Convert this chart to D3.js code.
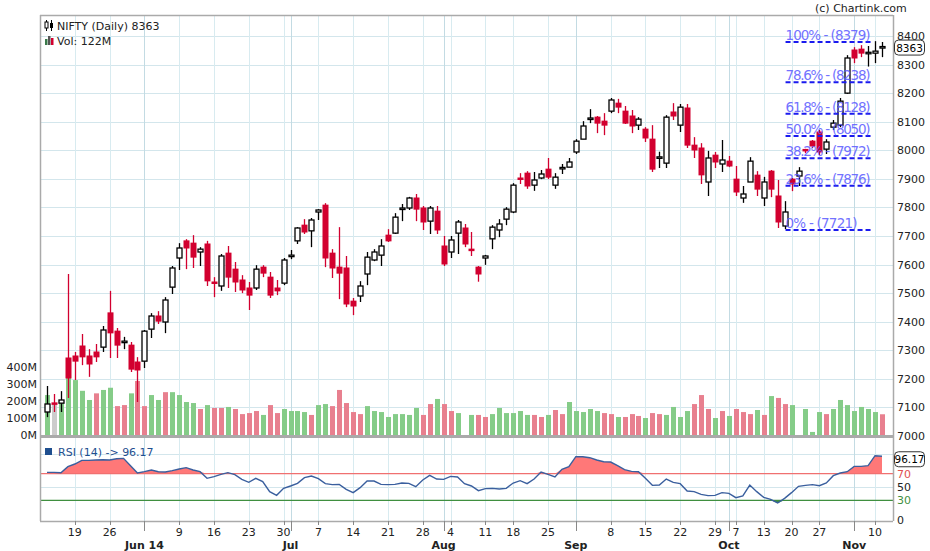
<!DOCTYPE html>
<html><head><meta charset="utf-8">
<script src="https://cdn.jsdelivr.net/npm/d3@7/dist/d3.min.js"></script>
<style>body{margin:0;background:#fff}svg{font-family:"DejaVu Sans",sans-serif}</style>
</head><body><svg id="c" width="930" height="551"></svg>
<script>
const opens=[7084,7116,7115,7273,7280,7315,7280,7294,7311,7431,7367,7329,7318,7259,7262,7374,7420,7399,7521,7623,7683,7675,7644,7672,7539,7525,7640,7584,7546,7518,7518,7591,7556,7518,7535,7630,7683,7738,7718,7784,7808,7640,7591,7588,7472,7490,7567,7616,7633,7703,7710,7796,7798,7833,7798,7752,7787,7665,7644,7710,7728,7654,7591,7623,7690,7721,7759,7784,7903,7920,7878,7903,7934,7878,7936,7941,7994,8039,8111,8116,8102,8137,8165,8137,8120,8088,8074,8039,7975,7955,8134,8088,8148,8018,8008,7889,7983,7952,7962,7899,7833,7889,7913,7833,7927,7840,7735,7899,7910,8003,8032,8064,8004,8081,8088,8200,8351,8354,8340,8340,8358];
const highs=[7175,7147,7157,7567,7294,7357,7304,7322,7385,7508,7378,7347,7329,7276,7371,7430,7437,7486,7595,7675,7689,7703,7661,7683,7556,7637,7665,7609,7563,7539,7598,7598,7574,7546,7623,7651,7731,7759,7763,7794,7815,7654,7731,7630,7483,7542,7644,7654,7689,7724,7780,7812,7837,7847,7805,7805,7805,7700,7700,7756,7742,7714,7595,7634,7738,7759,7801,7885,7920,7927,7924,7931,7973,7920,7952,7973,8039,8102,8144,8120,8130,8183,8180,8155,8141,8116,8081,8088,7995,8123,8165,8162,8162,8046,8025,7998,7994,8036,7980,7945,7875,7976,7927,7907,7931,7896,7822,7903,7941,8005,8036,8071,8039,8106,8183,8333,8361,8368,8365,8382,8379];
const lows=[7066,7084,7084,7133,7196,7248,7207,7259,7294,7273,7273,7304,7224,7119,7238,7343,7392,7360,7497,7581,7584,7588,7595,7525,7486,7508,7518,7504,7500,7441,7511,7556,7483,7493,7528,7619,7672,7707,7661,7756,7591,7553,7479,7451,7423,7469,7528,7612,7595,7679,7707,7752,7791,7752,7721,7707,7707,7595,7623,7637,7661,7630,7540,7599,7654,7696,7738,7780,7882,7865,7858,7899,7899,7865,7917,7941,7987,8039,8095,8060,8053,8130,8130,8092,8060,8071,8029,7924,7938,7938,8106,8064,8008,7973,7882,7840,7938,7924,7941,7840,7816,7889,7840,7805,7836,7728,7724,7857,7875,7990,8008,7983,7987,8071,8081,8197,8305,8326,8293,8305,8326];
const closes=[7112,7112,7126,7203,7262,7277,7252,7277,7371,7361,7318,7332,7234,7231,7367,7420,7402,7476,7588,7658,7658,7626,7654,7543,7535,7630,7556,7539,7511,7493,7584,7570,7493,7508,7616,7633,7728,7714,7756,7791,7623,7588,7570,7462,7455,7525,7626,7644,7665,7683,7766,7798,7833,7794,7749,7798,7721,7602,7686,7749,7672,7651,7567,7630,7731,7742,7794,7878,7899,7875,7896,7917,7906,7906,7940,7959,8032,8085,8113,8095,8088,8176,8151,8095,8085,8109,8043,7934,7977,8116,8120,8151,8018,8001,7914,7973,7959,7966,7945,7854,7847,7962,7864,7889,7864,7749,7784,7882,7927,8001,8015,7994,8029,8095,8172,8323,8323,8340,8343,8347,8363];
const volumes=[235,188,195,335,323,260,206,245,265,278,170,176,245,318,170,235,206,252,252,235,194,188,153,176,159,159,165,153,123,129,141,118,176,129,153,141,141,135,118,176,182,170,265,188,135,123,170,141,135,106,123,123,118,159,118,182,212,182,141,129,0,118,118,106,123,159,129,129,141,118,118,106,118,147,123,194,141,135,153,141,129,123,106,106,123,112,100,129,123,118,165,106,141,182,235,153,100,141,112,153,135,123,147,118,229,218,182,176,0,153,18,135,123,153,206,176,141,165,153,135,122];
const volDir="gngggggrggrrgrrggrggggrgrrgrrrrgrrggggrggrrrrrggggggggrrgrrgg-rrggggggrrgrrgggggrrgrrrgrrggggrrrgrgrrrgrgrrgg-ggrgggggggrrg";
const rsi=[72,72,71.5,80.5,84.5,90,90,90.5,91,90.5,92.5,93,82,71,73,75.5,73,72.5,74.5,77,79,75.5,73,63,65.5,69,71.5,68.5,61.5,57,63,58,43,37.5,48,51.5,55.5,64,66.5,62.5,55,53.5,54,46.5,41.5,49,59,59,54,53.5,54,56,55.5,50.5,60.5,67.5,62,61.5,66,65,55,51.5,44.5,47.5,48,47,48,56,59.5,55,62,72.5,69,65,76.5,80.5,95.5,95.5,94,90.5,88,87.5,82,76,73.5,73,63,52.5,53,62,57,55,44,43,39,37,37.5,41.5,40.5,34,36.5,53,43,34.5,31.5,26,33,41.5,51,52.5,53.5,52,56,67,71,73,81,81,82,97,96.17];
const priceTicks=[7000,7100,7200,7300,7400,7500,7600,7700,7800,7900,8000,8100,8200,8300,8400];
const volTicks=[0,100,200,300,400];
const rsiTicks=[0,30,50,70];
const dayTickIdx=[5,10,20,25,30,35,40,45,50,55,59,64,68,73,82,87,92,97,100,104,108,112,120];
const dayTickLbl=["19","26","9","16","23","30","7","14","21","28","4","11","18","25","8","15","22","29","7","13","20","27","10"];
const monthIdx=[15,36,58,77,99,117];
const monthLbl=["Jun 14","Jul","Aug","Sep","Oct","Nov"];
const fibLevels=[8379,8238,8128,8050,7972,7876,7721];
const fibLbl=["100%","78.6%","61.8%","50.0%","38.2%","23.6%","0%"];
const fibStart=108, fibEnd=120;

const svg=d3.select("#c");
const L=40,R=893,T=15,MB=436,RB=521;
const n=closes.length, idx=d3.range(1,n+1);
const x=d3.scaleLinear().domain([1,n]).range([47,882]);
const y=d3.scaleLinear().domain([7000,8400]).range([436,36]);
const yv=d3.scaleLinear().domain([0,400]).range([435,367]);
const yr=d3.scaleLinear().domain([0,100]).range([520.3,453.7]);
const px=v=>Math.round(x(v))+0.5;

const g=svg.append("g");
g.selectAll(".hg").data(priceTicks).join("line").attr("x1",L).attr("x2",R).attr("y1",d=>Math.round(y(d))+.5).attr("y2",d=>Math.round(y(d))+.5).attr("stroke","#d3e6ec");
[100,50].forEach(v=>g.append("line").attr("x1",L).attr("x2",R).attr("y1",Math.round(yr(v))+.5).attr("y2",Math.round(yr(v))+.5).attr("stroke","#d3e6ec"));
g.selectAll(".vg").data(dayTickIdx).join("line").attr("x1",d=>px(d)).attr("x2",d=>px(d)).attr("y1",T).attr("y2",RB).attr("stroke","#d8ebf0");
g.selectAll(".mg").data(monthIdx).join("line").attr("x1",d=>px(d)).attr("x2",d=>px(d)).attr("y1",T).attr("y2",RB).attr("stroke","#c3dbe3");

const vc={g:"#85cc88",r:"#e8808f",n:"#cccccc"};
svg.selectAll(".vb").data(idx.filter(i=>volumes[i-1]>0)).join("rect")
 .attr("x",i=>Math.round(x(i))-2.5+.5).attr("width",5).attr("y",i=>yv(volumes[i-1])).attr("height",i=>yv(0)-yv(volumes[i-1])+1)
 .attr("fill",i=>vc[volDir[i-1]]||"#85cc88");

const cg=svg.append("g");
idx.forEach(i=>{
 const o=opens[i-1],h=highs[i-1],l=lows[i-1],c=closes[i-1];
 const up=c>=o, col=up?"#000":"#d2002f";
 const cx=px(i);
 cg.append("line").attr("x1",cx).attr("x2",cx).attr("y1",y(h)).attr("y2",y(l)).attr("stroke",col).attr("stroke-width",1.3);
 const top=y(Math.max(o,c)),bot=y(Math.min(o,c));
 const hgt=Math.max(bot-top,1.5);
 if(up) cg.append("rect").attr("x",cx-2.5).attr("width",5).attr("y",top).attr("height",hgt).attr("fill","#fff").attr("stroke","#000").attr("stroke-width",1.3);
 else cg.append("rect").attr("x",cx-3).attr("width",6).attr("y",top-0.5).attr("height",hgt+1).attr("fill","#d2002f");
});

fibLevels.forEach((v,j)=>{
 svg.append("line").attr("x1",x(fibStart)-6).attr("x2",x(fibEnd)-4).attr("y1",y(v)).attr("y2",y(v)).attr("stroke","#1a1aee").attr("stroke-width",2).attr("stroke-dasharray","5,3");
 svg.append("text").attr("x",x(fibStart)-6).attr("y",y(v)-2).attr("font-size",13.5).attr("textLength",j<6?85:72).attr("fill","#5a5aff").attr("opacity",.85).text(fibLbl[j]+" - ("+v+")");
});

const ra=d3.area().x(i=>x(i)).y0(yr(70)).y1(i=>yr(Math.max(rsi[i-1],70)));
svg.append("path").attr("d",ra(idx)).attr("fill","#ff7878");
const rb=d3.area().x(i=>x(i)).y0(yr(30)).y1(i=>yr(Math.min(rsi[i-1],30)));
svg.append("path").attr("d",rb(idx)).attr("fill","#3d8f3d");
svg.append("line").attr("x1",L).attr("x2",R).attr("y1",yr(70)).attr("y2",yr(70)).attr("stroke","#f07070").attr("stroke-width",1.3);
svg.append("line").attr("x1",L).attr("x2",R).attr("y1",yr(30)).attr("y2",yr(30)).attr("stroke","#3f8f3f").attr("stroke-width",1.3);
svg.append("path").attr("d",d3.line().x(i=>x(i)).y(i=>yr(rsi[i-1]))(idx)).attr("fill","none").attr("stroke","#3a5f9e").attr("stroke-width",1.4);

const fr="#aaaaaa";
svg.append("line").attr("x1",L+.5).attr("x2",L+.5).attr("y1",T).attr("y2",RB).attr("stroke",fr).attr("stroke-width",1.5);
svg.append("line").attr("x1",R+.5).attr("x2",R+.5).attr("y1",T).attr("y2",RB).attr("stroke",fr).attr("stroke-width",1.5);
svg.append("line").attr("x1",L).attr("x2",R).attr("y1",T+.5).attr("y2",T+.5).attr("stroke",fr).attr("stroke-width",1.5);
svg.append("line").attr("x1",L).attr("x2",R).attr("y1",MB+.5).attr("y2",MB+.5).attr("stroke",fr).attr("stroke-width",3);
svg.append("line").attr("x1",L).attr("x2",R).attr("y1",RB+.5).attr("y2",RB+.5).attr("stroke",fr).attr("stroke-width",1.5);

const ax=svg.append("g").attr("font-size",11).attr("fill","#222");
priceTicks.forEach(v=>ax.append("text").attr("x",897).attr("y",y(v)+4).text(v));
volTicks.forEach(v=>ax.append("text").attr("x",37).attr("y",yv(v)+4).attr("text-anchor","end").text(v+"M"));
const rc={70:"#e05050",30:"#3f8f3f"};
rsiTicks.forEach(v=>ax.append("text").attr("x",897).attr("y",yr(v)+4).attr("fill",rc[v]||"#222").text(v));
dayTickIdx.forEach((d,j)=>{
 svg.append("line").attr("x1",px(d)).attr("x2",px(d)).attr("y1",RB).attr("y2",RB+4).attr("stroke","#888");
 ax.append("text").attr("x",x(d)).attr("y",536).attr("text-anchor","middle").text(dayTickLbl[j]);
});
monthIdx.forEach((d,j)=>{
 svg.append("line").attr("x1",px(d)).attr("x2",px(d)).attr("y1",RB).attr("y2",RB+10).attr("stroke","#888");
 ax.append("text").attr("x",x(d)).attr("y",549).attr("text-anchor","middle").attr("font-weight","bold").text(monthLbl[j]);
});

function box(cy,t){
 svg.append("rect").attr("x",894.5).attr("y",cy-7.5).attr("width",30).attr("height",15).attr("rx",4).attr("fill","#fff").attr("stroke","#333");
 svg.append("text").attr("x",909.5).attr("y",cy+4).attr("text-anchor","middle").attr("font-size",10.5).text(t);
}
box(y(closes[n-1])+1,closes[n-1]);
box(yr(rsi[n-1])+3,rsi[n-1].toFixed(2));

svg.append("text").attr("x",815).attr("y",12).attr("font-size",11).attr("fill","#222").text("(c) Chartink.com");
const lg=svg.append("g");
lg.append("line").attr("x1",46.5).attr("x2",46.5).attr("y1",20).attr("y2",31).attr("stroke","#000");
lg.append("rect").attr("x",45).attr("y",22).attr("width",3).attr("height",6).attr("fill","#fff").attr("stroke","#000");
lg.append("line").attr("x1",51.5).attr("x2",51.5).attr("y1",20).attr("y2",31).attr("stroke","#000");
lg.append("rect").attr("x",50).attr("y",23).attr("width",3).attr("height",5).attr("fill","#000");
lg.append("text").attr("x",57).attr("y",30).attr("font-size",11).attr("fill","#222").text("NIFTY (Daily) "+closes[n-1]);
[[45,39,"#3a7a4a"],[48,36,"#555"],[51,38,"#d2002f"]].forEach(b=>lg.append("rect").attr("x",b[0]).attr("y",b[1]).attr("width",2.5).attr("height",45-b[1]).attr("fill",b[2]));
lg.append("text").attr("x",57).attr("y",45).attr("font-size",11).attr("fill","#222").text("Vol: "+volumes[n-1]+"M");
lg.append("rect").attr("x",45).attr("y",448).attr("width",7).attr("height",7).attr("fill","#1f4f8f");
lg.append("text").attr("x",58).attr("y",456).attr("font-size",11).attr("fill","#1f4f8f").text("RSI (14) -> "+rsi[n-1].toFixed(2));
</script></body></html>
